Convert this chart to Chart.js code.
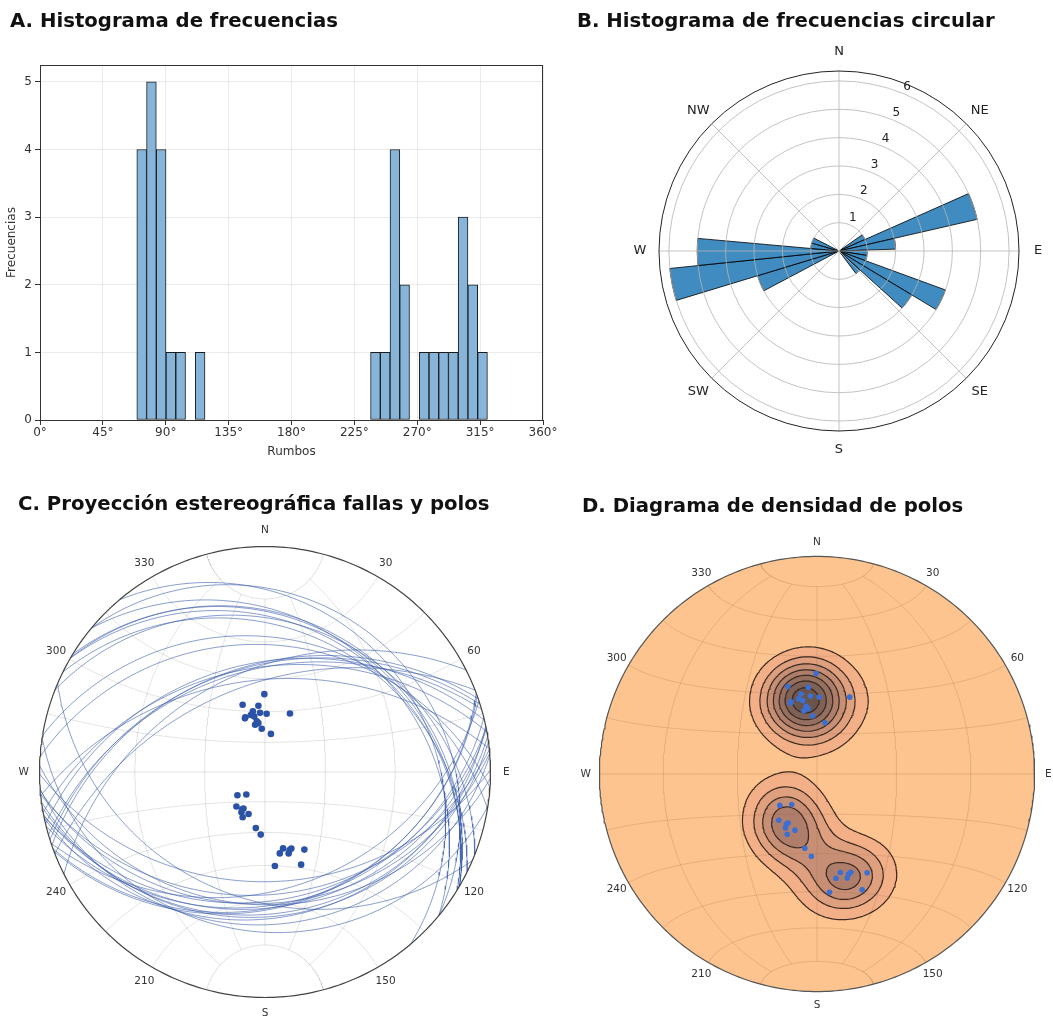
<!DOCTYPE html>
<html>
<head>
<meta charset="utf-8">
<script src="https://cdn.jsdelivr.net/npm/chart.js@4.4.1/dist/chart.umd.min.js"></script>
<style>
  body { margin: 0; width: 1053px; height: 1018px; overflow: hidden; background: #fff; position: relative; font-family: 'DejaVu Sans', sans-serif; }
  .title { position: absolute; z-index: 2; font-weight: bold; font-size: 19.7px; line-height: 1; color: #111; white-space: nowrap; }
  canvas { position: absolute; }
</style>
</head>
<body>
<div class="title" style="left:10px;top:11px">A. Histograma de frecuencias</div>
<div class="title" style="left:577px;top:11px">B. Histograma de frecuencias circular</div>
<div class="title" style="left:18px;top:494px">C. Proyección estereográfica fallas y polos</div>
<div class="title" style="left:582px;top:496px">D. Diagrama de densidad de polos</div>

<canvas id="histA" width="560" height="465" style="left:0;top:0"></canvas>
<canvas id="roseB" width="440" height="440" style="left:619px;top:31px"></canvas>
<canvas id="stereoC" width="520" height="520" style="left:5px;top:512px"></canvas>
<canvas id="densD" width="520" height="520" style="left:557px;top:514px"></canvas>

<script>
// A. Histograma de rumbos (conteos)
const histStart = 69.3;
const histWidth = 6.97;
const histCounts = [4, 5, 4, 1, 1, 0, 1, 0, 0, 0, 0, 0, 0, 0, 0, 0, 0, 0, 0, 0, 0, 0, 0, 0,
                    1, 1, 4, 2, 0, 1, 1, 1, 1, 3, 2, 1];
const histXTicks = [0, 45, 90, 135, 180, 225, 270, 315, 360];
const histYTicks = [0, 1, 2, 3, 4, 5];

// B. Rosa de direcciones
const roseStart = 55.1;
const roseWidth = 11;
const roseCounts = [1, 5, 2, 1, 1, 4, 3, 1, 0, 0, 0, 0, 0, 0, 0, 0, 0, 3, 6, 5, 1, 1];
const roseTicks = [1, 2, 3, 4, 5, 6];
const roseMax = 6.35;
const compassLabels = ['N', 'NE', 'E', 'SE', 'S', 'SW', 'W', 'NW'];

// C / D. Planos de falla (rumbo, buzamiento)
const strikes = [89.5, 71.6, 84.3, 78.7, 85.2, 91.6, 113.1, 76.1, 70.2, 69.5, 80.9, 82.3, 78.2, 85.7, 98.8, 79.0,
                 319.8, 309.6, 309.6, 300.5, 300.3, 301.5, 291.4, 296.3, 279.3, 273.9,
                 256.7, 251.0, 252.5, 259.7, 253.8, 243.1, 264.0, 248.7];
const dips = [38.1, 34.9, 32.9, 30.7, 29.5, 29.0, 31.5, 29.2, 28.9, 28.5, 25.7, 24.7, 24.2, 21.8, 19.4, 28.1,
              18.2, 14.8, 22.5, 21.3, 23.4, 22.0, 22.6, 25.2, 28.3, 31.1,
              38.4, 39.5, 39.9, 40.3, 41.2, 42.2, 45.5, 47.6];
const netLabels = ['N', '30', '60', 'E', '120', '150', 'S', '210', '240', 'W', '300', '330'];

const FONT = "'DejaVu Sans', sans-serif";
const RAD = Math.PI / 180;
Chart.defaults.font.family = FONT;

// ---------- A ----------
const frameA = {
    id: 'frameA',
    afterDatasetsDraw(chart) {
        const {ctx, chartArea: a} = chart;
        ctx.save();
        ctx.strokeStyle = '#333';
        ctx.lineWidth = 1;
        ctx.strokeRect(a.left + 0.5, a.top + 0.5, a.right - a.left - 1, a.bottom - a.top);
        ctx.restore();
    }
};

new Chart(document.getElementById('histA'), {
    type: 'bar',
    data: {
        datasets: [{
            data: histCounts.map((c, i) => ({x: histStart + histWidth * (i + 0.5), y: c})),
            backgroundColor: '#87b5da',
            borderColor: '#1c1c1c',
            borderWidth: 1,
            borderSkipped: false,
            barPercentage: 1,
            categoryPercentage: 1
        }]
    },
    options: {
        responsive: false,
        animation: false,
        events: [],
        layout: {padding: {left: 0, right: 17, top: 65, bottom: 0}},
        plugins: {legend: {display: false}, tooltip: {enabled: false}},
        scales: {
            x: {
                type: 'linear', min: 0, max: 360, offset: false,
                afterBuildTicks: s => { s.ticks = histXTicks.map(v => ({value: v})); },
                afterFit: s => { s.height = 45; },
                ticks: {callback: v => v + '°', color: '#333', font: {size: 12}, padding: 1, maxRotation: 0},
                grid: {color: 'rgba(0,0,0,0.08)', tickColor: '#333', tickLength: 5, offset: false},
                border: {display: false},
                title: {display: true, text: 'Rumbos', color: '#333', font: {size: 12}, padding: {top: 0, bottom: 6}}
            },
            y: {
                min: 0, max: 5.25,
                afterBuildTicks: s => { s.ticks = histYTicks.map(v => ({value: v})); },
                afterFit: s => { s.width = 40; },
                ticks: {color: '#333', font: {size: 12}, padding: 3},
                grid: {color: 'rgba(0,0,0,0.08)', tickColor: '#333', tickLength: 5},
                border: {display: false},
                title: {display: true, text: 'Frecuencias', color: '#333', font: {size: 12}, padding: {top: 5, bottom: 0}}
            }
        }
    },
    plugins: [frameA]
});

// ---------- B ----------
const roseGrid = {
    id: 'roseGrid',
    afterDatasetsDraw(chart) {
        const s = chart.scales.r, ctx = chart.ctx;
        const cx = s.xCenter, cy = s.yCenter;
        const R = s.getDistanceFromCenterForValue(roseMax);
        ctx.save();
        ctx.strokeStyle = 'rgba(180,180,180,0.8)';
        ctx.lineWidth = 1;
        roseTicks.forEach(v => {
            ctx.beginPath();
            ctx.arc(cx, cy, s.getDistanceFromCenterForValue(v), 0, 2 * Math.PI);
            ctx.stroke();
        });
        for (let k = 0; k < 8; k++) {
            const a = k * 45 * RAD;
            ctx.beginPath();
            ctx.moveTo(cx, cy);
            ctx.lineTo(cx + R * Math.sin(a), cy - R * Math.cos(a));
            ctx.stroke();
        }
        ctx.strokeStyle = '#222';
        ctx.beginPath();
        ctx.arc(cx, cy, R, 0, 2 * Math.PI);
        ctx.stroke();

        ctx.fillStyle = '#222';
        ctx.textAlign = 'center';
        ctx.textBaseline = 'middle';
        ctx.font = '12px ' + FONT;
        const ta = 22.5 * RAD;
        roseTicks.forEach(v => {
            const r = s.getDistanceFromCenterForValue(v) + 8;
            ctx.fillText(String(v), cx + r * Math.sin(ta), cy - r * Math.cos(ta));
        });
        ctx.font = '13px ' + FONT;
        compassLabels.forEach((t, k) => {
            const a = k * 45 * RAD;
            ctx.fillText(t, cx + (R + 19) * Math.sin(a), cy - (R + 19) * Math.cos(a));
        });
        ctx.restore();
    }
};

new Chart(document.getElementById('roseB'), {
    type: 'polarArea',
    data: {
        labels: roseCounts.map((c, i) => String(roseStart + roseWidth * i)),
        datasets: [{
            data: roseCounts,
            angle: roseWidth,
            backgroundColor: 'rgba(31,119,180,0.85)',
            borderColor: 'rgba(0,0,0,0.8)',
            borderWidth: ctx => roseCounts[ctx.dataIndex] ? 1 : 0
        }]
    },
    options: {
        responsive: false,
        animation: false,
        events: [],
        layout: {padding: 40},
        plugins: {legend: {display: false}, tooltip: {enabled: false}},
        scales: {
            r: {
                min: 0, max: roseMax, startAngle: roseStart,
                ticks: {display: false},
                grid: {display: false},
                angleLines: {display: false},
                pointLabels: {display: false}
            }
        }
    },
    plugins: [roseGrid]
});

// ---------- C y D: red estereográfica ----------
function project(v, kind) {
    const th = Math.acos(Math.max(-1, Math.min(1, v[2])));
    const h = Math.hypot(v[0], v[1]);
    if (h < 1e-9) return {x: 0, y: 0};
    const r = kind === 'angle' ? Math.tan(th / 2) : Math.SQRT2 * Math.sin(th / 2);
    return {x: r * v[0] / h, y: r * v[1] / h};
}
const gap = () => ({x: NaN, y: NaN});

function netGrid(kind) {
    const pts = [];
    [-60, -30, 0, 30, 60].forEach(lon => {
        for (let lat = -75; lat <= 75; lat += 1) {
            pts.push(project([Math.cos(lat * RAD) * Math.sin(lon * RAD), Math.sin(lat * RAD), Math.cos(lat * RAD) * Math.cos(lon * RAD)], kind));
        }
        pts.push(gap());
    });
    for (let lat = -75; lat <= 75; lat += 15) {
        for (let lon = -90; lon <= 90; lon += 1) {
            pts.push(project([Math.cos(lat * RAD) * Math.sin(lon * RAD), Math.sin(lat * RAD), Math.cos(lat * RAD) * Math.cos(lon * RAD)], kind));
        }
        pts.push(gap());
    }
    return pts;
}

function primitive() {
    const pts = [];
    for (let a = 0; a <= 360; a += 1) pts.push({x: Math.sin(a * RAD), y: Math.cos(a * RAD)});
    return pts;
}

// plano: rumbo con regla de la mano derecha, buza hacia rumbo + 90
function greatCircles(kind) {
    const pts = [];
    strikes.forEach((st, i) => {
        const s = st * RAD, dd = (st + 90) * RAD, d = dips[i] * RAD;
        for (let t = 0; t <= 180; t += 1) {
            const c = Math.cos(t * RAD), n = Math.sin(t * RAD);
            pts.push(project([c * Math.sin(s) + n * Math.sin(dd) * Math.cos(d),
                              c * Math.cos(s) + n * Math.cos(dd) * Math.cos(d),
                              n * Math.sin(d)], kind));
        }
        pts.push(gap());
    });
    return pts;
}

// polo: tendencia rumbo - 90, inmersión 90 - buzamiento
function poleVec(i) {
    const az = (strikes[i] - 90) * RAD, th = dips[i] * RAD;
    return [Math.sin(th) * Math.sin(az), Math.sin(th) * Math.cos(az), Math.cos(th)];
}

function netLabelPlugin(radius) {
    return {
        id: 'netLabels',
        afterDraw(chart) {
            const {ctx, scales: {x, y}} = chart;
            ctx.save();
            ctx.font = '10.5px ' + FONT;
            ctx.fillStyle = '#333';
            ctx.textAlign = 'center';
            ctx.textBaseline = 'middle';
            netLabels.forEach((t, k) => {
                const a = k * 30 * RAD;
                ctx.fillText(t, x.getPixelForValue(radius * Math.sin(a)), y.getPixelForValue(radius * Math.cos(a)));
            });
            ctx.restore();
        }
    };
}

function netOptions(M) {
    return {
        responsive: false,
        animation: false,
        events: [],
        layout: {padding: 0},
        plugins: {legend: {display: false}, tooltip: {enabled: false}},
        scales: {
            x: {type: 'linear', min: -M, max: M, display: false},
            y: {type: 'linear', min: -M, max: M, display: false}
        }
    };
}

function lineSet(data, color, width, order) {
    return {data, showLine: true, pointRadius: 0, borderColor: color, borderWidth: width, fill: false, order, borderJoinStyle: 'round'};
}

// C: proyección equiangular
new Chart(document.getElementById('stereoC'), {
    type: 'scatter',
    data: {
        datasets: [
            {data: strikes.map((s, i) => project(poleVec(i), 'angle')), pointRadius: 3.3, pointBackgroundColor: '#2a52a6', pointBorderWidth: 0, order: 0},
            lineSet(primitive(), '#444', 1.2, 1),
            lineSet(greatCircles('angle'), 'rgba(58,92,170,0.6)', 1, 2),
            lineSet(netGrid('angle'), 'rgba(0,0,0,0.11)', 1, 3)
        ]
    },
    options: netOptions(260 / 229),
    plugins: [netLabelPlugin(1.07)]
});

// D: densidad (proyección de igual área)
const poleVecs = strikes.map((s, i) => poleVec(i));
const kernelK = 40;
const firstLevel = 1.54;
const levelStep = 1.62;
const bandColors = ['#fdc48f', '#f3b088', '#dfa07f', '#c78f75', '#ae7e6b', '#957061', '#7e6257', '#6a544b', '#5c4943'];

function densityAt(x, y) {
    const r = Math.hypot(x, y);
    if (r > 1) return 0;
    const th = 2 * Math.asin(r / Math.SQRT2);
    const v = r < 1e-12 ? [0, 0, 1] : [Math.sin(th) * x / r, Math.sin(th) * y / r, Math.cos(th)];
    let sum = 0;
    poleVecs.forEach(p => {
        const c = Math.abs(p[0] * v[0] + p[1] * v[1] + p[2] * v[2]);
        sum += Math.exp(kernelK * (c - 1));
    });
    return sum;
}

const gridN = 201;
const gxs = [];
for (let i = 0; i < gridN; i++) gxs.push(-1 + 2 * i / (gridN - 1));
const field = new Float64Array(gridN * gridN);
for (let j = 0; j < gridN; j++) for (let i = 0; i < gridN; i++) field[j * gridN + i] = densityAt(gxs[i], gxs[j]);

const levels = [];
for (let k = 0; k < bandColors.length - 1; k++) levels.push(firstLevel + k * levelStep);
const bandOf = v => { let b = 0; levels.forEach((L, k) => { if (v >= L) b = k + 1; }); return b; };

// bandas rellenas (celdas)
const bandPts = bandColors.map(() => []);
for (let j = 0; j < gridN - 1; j++) for (let i = 0; i < gridN - 1; i++) {
    const cx = (gxs[i] + gxs[i + 1]) / 2, cy = (gxs[j] + gxs[j + 1]) / 2;
    if (Math.hypot(cx, cy) > 1) continue;
    const b = bandOf((field[j * gridN + i] + field[j * gridN + i + 1] + field[(j + 1) * gridN + i] + field[(j + 1) * gridN + i + 1]) / 4);
    if (b >= 1) bandPts[b].push({x: cx, y: cy});
}

// isolíneas (marching squares)
const edgeTable = {1: [[3, 0]], 2: [[0, 1]], 3: [[3, 1]], 4: [[1, 2]], 5: [[3, 0], [1, 2]], 6: [[0, 2]], 7: [[3, 2]],
                   8: [[2, 3]], 9: [[0, 2]], 10: [[0, 1], [2, 3]], 11: [[1, 2]], 12: [[1, 3]], 13: [[0, 1]], 14: [[0, 3]]};
const contourPts = [];
levels.forEach(L => {
    for (let j = 0; j < gridN - 1; j++) for (let i = 0; i < gridN - 1; i++) {
        const v0 = field[j * gridN + i], v1 = field[j * gridN + i + 1];
        const v2 = field[(j + 1) * gridN + i + 1], v3 = field[(j + 1) * gridN + i];
        const c = (v0 >= L ? 1 : 0) | (v1 >= L ? 2 : 0) | (v2 >= L ? 4 : 0) | (v3 >= L ? 8 : 0);
        if (c === 0 || c === 15) continue;
        const x0 = gxs[i], x1 = gxs[i + 1], y0 = gxs[j], y1 = gxs[j + 1];
        const edge = [
            () => ({x: x0 + (L - v0) / (v1 - v0) * (x1 - x0), y: y0}),
            () => ({x: x1, y: y0 + (L - v1) / (v2 - v1) * (y1 - y0)}),
            () => ({x: x0 + (L - v3) / (v2 - v3) * (x1 - x0), y: y1}),
            () => ({x: x0, y: y0 + (L - v0) / (v3 - v0) * (y1 - y0)})
        ];
        edgeTable[c].forEach(([a, b]) => { contourPts.push(edge[a](), edge[b](), gap()); });
    }
});

const MD = 260 / 221;
const cellPx = (2 / (gridN - 1)) * 260 / MD;
const bandSets = [];
for (let b = 1; b < bandColors.length; b++) {
    bandSets.push({data: bandPts[b], pointStyle: 'rect', pointRadius: (cellPx + 0.6) / Math.SQRT2,
                   pointBackgroundColor: bandColors[b], pointBorderWidth: 0, order: 14 - b});
}

new Chart(document.getElementById('densD'), {
    type: 'scatter',
    data: {
        datasets: [
            {data: strikes.map((s, i) => project(poleVec(i), 'area')), pointRadius: 2.8, pointBackgroundColor: '#3c6fd2', pointBorderWidth: 0, order: 0},
            lineSet(primitive(), '#555', 1.2, 1),
            lineSet(contourPts, '#3b2a20', 1.2, 2),
            lineSet(netGrid('area'), 'rgba(150,100,70,0.22)', 1, 3),
            ...bandSets,
            Object.assign(lineSet(primitive(), 'rgba(0,0,0,0)', 0, 20), {fill: 'shape', backgroundColor: bandColors[0]})
        ]
    },
    options: netOptions(MD),
    plugins: [netLabelPlugin(1.063)]
});
</script>
</body>
</html>
